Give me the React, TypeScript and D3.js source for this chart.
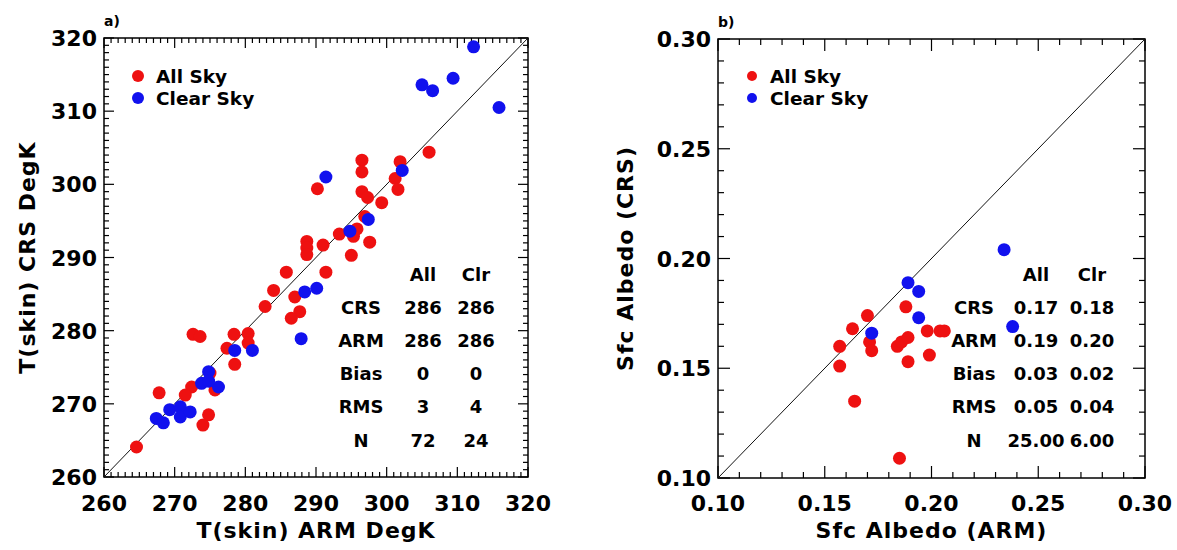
import React from "react";
import * as d3 from "d3";

// ---------- Panel a) data: T(skin) ----------
const allSkyArmA = [306.0, 296.5, 296.5, 301.9, 290.2, 301.2, 301.6, 296.5, 297.3, 299.3, 296.9, 295.8, 295.3, 293.3, 288.7, 288.7, 288.7, 291.0, 297.6, 295.0, 291.4, 285.8, 284.0, 282.8, 287.0, 287.7, 286.5, 272.6, 273.6, 278.4, 280.4, 280.4, 277.4, 278.5, 275.0, 275.7, 272.4, 271.5, 267.8, 274.8, 274.0, 264.6];
const allSkyCrsA = [304.4, 303.3, 301.7, 303.1, 299.4, 300.8, 299.3, 299.0, 298.2, 297.5, 295.6, 293.9, 292.9, 293.2, 292.2, 291.3, 290.4, 291.7, 292.1, 290.3, 288.0, 288.0, 285.5, 283.3, 284.6, 282.6, 281.7, 279.5, 279.2, 279.5, 279.6, 278.3, 277.6, 275.4, 274.2, 271.9, 272.3, 271.2, 271.5, 268.5, 267.1, 264.1];
const clearSkyArmA = [312.3, 305.0, 306.5, 309.4, 315.9, 291.4, 302.2, 297.4, 294.8, 288.4, 290.1, 287.9, 278.5, 281.0, 274.8, 273.8, 276.2, 274.8, 269.3, 270.8, 270.8, 272.2, 267.4, 268.4];
const clearSkyCrsA = [318.8, 313.6, 312.8, 314.5, 310.5, 301.0, 301.9, 295.2, 293.6, 285.3, 285.8, 278.9, 277.3, 277.3, 274.4, 272.8, 272.3, 273.1, 269.2, 269.6, 268.2, 268.9, 268.0, 267.4];
const ticksA = [260, 270, 280, 290, 300, 310, 320];
const tableRowsA = ["CRS", "ARM", "Bias", "RMS", "N"];
const tableAllA = ["286", "286", "0", "3", "72"];
const tableClrA = ["286", "286", "0", "4", "24"];

// ---------- Panel b) data: Sfc Albedo ----------
const allSkyArmB = [0.170, 0.188, 0.163, 0.157, 0.157, 0.171, 0.172, 0.184, 0.186, 0.189, 0.189, 0.198, 0.204, 0.206, 0.199, 0.164, 0.185];
const allSkyCrsB = [0.174, 0.178, 0.168, 0.160, 0.151, 0.162, 0.158, 0.160, 0.162, 0.164, 0.153, 0.167, 0.167, 0.167, 0.156, 0.135, 0.109];
const clearSkyArmB = [0.234, 0.189, 0.194, 0.194, 0.238, 0.172];
const clearSkyCrsB = [0.204, 0.189, 0.185, 0.173, 0.169, 0.166];
const ticksB = [0.10, 0.15, 0.20, 0.25, 0.30];
const tableRowsB = ["CRS", "ARM", "Bias", "RMS", "N"];
const tableAllB = ["0.17", "0.19", "0.03", "0.05", "25.00"];
const tableClrB = ["0.18", "0.20", "0.02", "0.04", "6.00"];

const RED = "#ee1111";
const BLUE = "#1111ee";
const FONT = "'DejaVu Sans', sans-serif";

type PanelProps = {
  label: string;
  left: number; right: number; top: number; bottom: number;
  domain: [number, number];
  ticks: number[];
  minorStep: number;
  fmt: (v: number) => string;
  majorLen: number; minorLen: number;
  xTitle: string; yTitle: string; yTitleX: number;
  redX: number[]; redY: number[]; blueX: number[]; blueY: number[];
  rows: string[]; colAll: string[]; colClr: string[];
  colX: [number, number, number];
  legendMarkerR: number;
};

function Panel(p: PanelProps) {
  const x = d3.scaleLinear().domain(p.domain).range([p.left, p.right]);
  const y = d3.scaleLinear().domain(p.domain).range([p.bottom, p.top]);
  const n = Math.round((p.domain[1] - p.domain[0]) / p.minorStep);
  const minor = d3.range(n + 1).map((i) => p.domain[0] + i * p.minorStep);
  const isMajor = (v: number) => p.ticks.some((t) => Math.abs(t - v) < p.minorStep / 10);
  const tickLines: JSX.Element[] = [];
  minor.forEach((v, i) => {
    const len = isMajor(v) ? p.majorLen : p.minorLen;
    const xv = x(v), yv = y(v);
    tickLines.push(<line key={"b" + i} x1={xv} x2={xv} y1={p.bottom} y2={p.bottom - len} />);
    tickLines.push(<line key={"t" + i} x1={xv} x2={xv} y1={p.top} y2={p.top + len} />);
    tickLines.push(<line key={"l" + i} x1={p.left} x2={p.left + len} y1={yv} y2={yv} />);
    tickLines.push(<line key={"r" + i} x1={p.right} x2={p.right - len} y1={yv} y2={yv} />);
  });
  const cx = (p.left + p.right) / 2;
  const cy = (p.top + p.bottom) / 2;
  const rowY = [307, 340, 373, 406, 440];
  const tfs = 18;
  return (
    <g>
      <text x={p.left} y={p.top - 12} fontFamily={FONT} fontWeight="bold" fontSize={14}>{p.label}</text>
      <rect x={p.left} y={p.top} width={p.right - p.left} height={p.bottom - p.top} fill="none" stroke="#000" strokeWidth={1.5} />
      <g stroke="#000" strokeWidth={1.2}>{tickLines}</g>
      <line x1={x(p.domain[0])} y1={y(p.domain[0])} x2={x(p.domain[1])} y2={y(p.domain[1])} stroke="#111" strokeWidth={1} />
      {p.ticks.map((t, i) => (
        <text key={"xl" + i} x={x(t)} y={511} textAnchor="middle" fontFamily={FONT} fontWeight="bold" fontSize={22}>{p.fmt(t)}</text>
      ))}
      {p.ticks.map((t, i) => (
        <text key={"yl" + i} x={p.left - 7} y={y(t) + 8} textAnchor="end" fontFamily={FONT} fontWeight="bold" fontSize={22}>{p.fmt(t)}</text>
      ))}
      <text x={cx} y={538} textAnchor="middle" fontFamily={FONT} fontWeight="bold" fontSize={22} letterSpacing={1}>{p.xTitle}</text>
      <text transform={`translate(${p.yTitleX},${cy}) rotate(-90)`} textAnchor="middle" fontFamily={FONT} fontWeight="bold" fontSize={22} letterSpacing={1}>{p.yTitle}</text>
      {/* data */}
      {p.redX.map((v, i) => (
        <circle key={"r" + i} cx={x(v)} cy={y(p.redY[i])} r={6.5} fill={RED} />
      ))}
      {p.blueX.map((v, i) => (
        <circle key={"bl" + i} cx={x(v)} cy={y(p.blueY[i])} r={6.5} fill={BLUE} />
      ))}
      {/* legend */}
      <circle cx={p.left + 34} cy={76} r={p.legendMarkerR} fill={RED} />
      <text x={p.left + 52} y={82.5} fontFamily={FONT} fontWeight="bold" fontSize={18.5}>All Sky</text>
      <circle cx={p.left + 34} cy={98} r={p.legendMarkerR} fill={BLUE} />
      <text x={p.left + 52} y={104.5} fontFamily={FONT} fontWeight="bold" fontSize={18.5}>Clear Sky</text>
      {/* stats table */}
      <g fontFamily={FONT} fontWeight="bold" fontSize={tfs} textAnchor="middle">
        <text x={p.colX[1]} y={274 + 6.5}>All</text>
        <text x={p.colX[2]} y={274 + 6.5}>Clr</text>
        {p.rows.map((r, i) => (
          <g key={"row" + i}>
            <text x={p.colX[0]} y={rowY[i] + 6.5}>{r}</text>
            <text x={p.colX[1]} y={rowY[i] + 6.5}>{p.colAll[i]}</text>
            <text x={p.colX[2]} y={rowY[i] + 6.5}>{p.colClr[i]}</text>
          </g>
        ))}
      </g>
    </g>
  );
}

export default function App() {
  return (
    <svg width={1177} height={550} style={{ position: "absolute", left: 0, top: 0, background: "#fff" }}>
      <rect x={0} y={0} width={1177} height={550} fill="#fff" />
      <Panel
        label="a)"
        left={104} right={528} top={38} bottom={477}
        domain={[260, 320]} ticks={ticksA} minorStep={1}
        fmt={(v) => d3.format("d")(v)}
        majorLen={10} minorLen={5}
        xTitle="T(skin) ARM DegK" yTitle="T(skin) CRS DegK" yTitleX={35}
        redX={allSkyArmA} redY={allSkyCrsA} blueX={clearSkyArmA} blueY={clearSkyCrsA}
        rows={tableRowsA} colAll={tableAllA} colClr={tableClrA}
        colX={[361, 423, 476]}
        legendMarkerR={6}
      />
      <Panel
        label="b)"
        left={718} right={1145} top={39} bottom={478}
        domain={[0.10, 0.30]} ticks={ticksB} minorStep={0.01}
        fmt={(v) => d3.format(".2f")(v)}
        majorLen={12} minorLen={6}
        xTitle="Sfc Albedo (ARM)" yTitle="Sfc Albedo (CRS)" yTitleX={633}
        redX={allSkyArmB} redY={allSkyCrsB} blueX={clearSkyArmB} blueY={clearSkyCrsB}
        rows={tableRowsB} colAll={tableAllB} colClr={tableClrB}
        colX={[974, 1036, 1092]}
        legendMarkerR={5}
      />
    </svg>
  );
}
